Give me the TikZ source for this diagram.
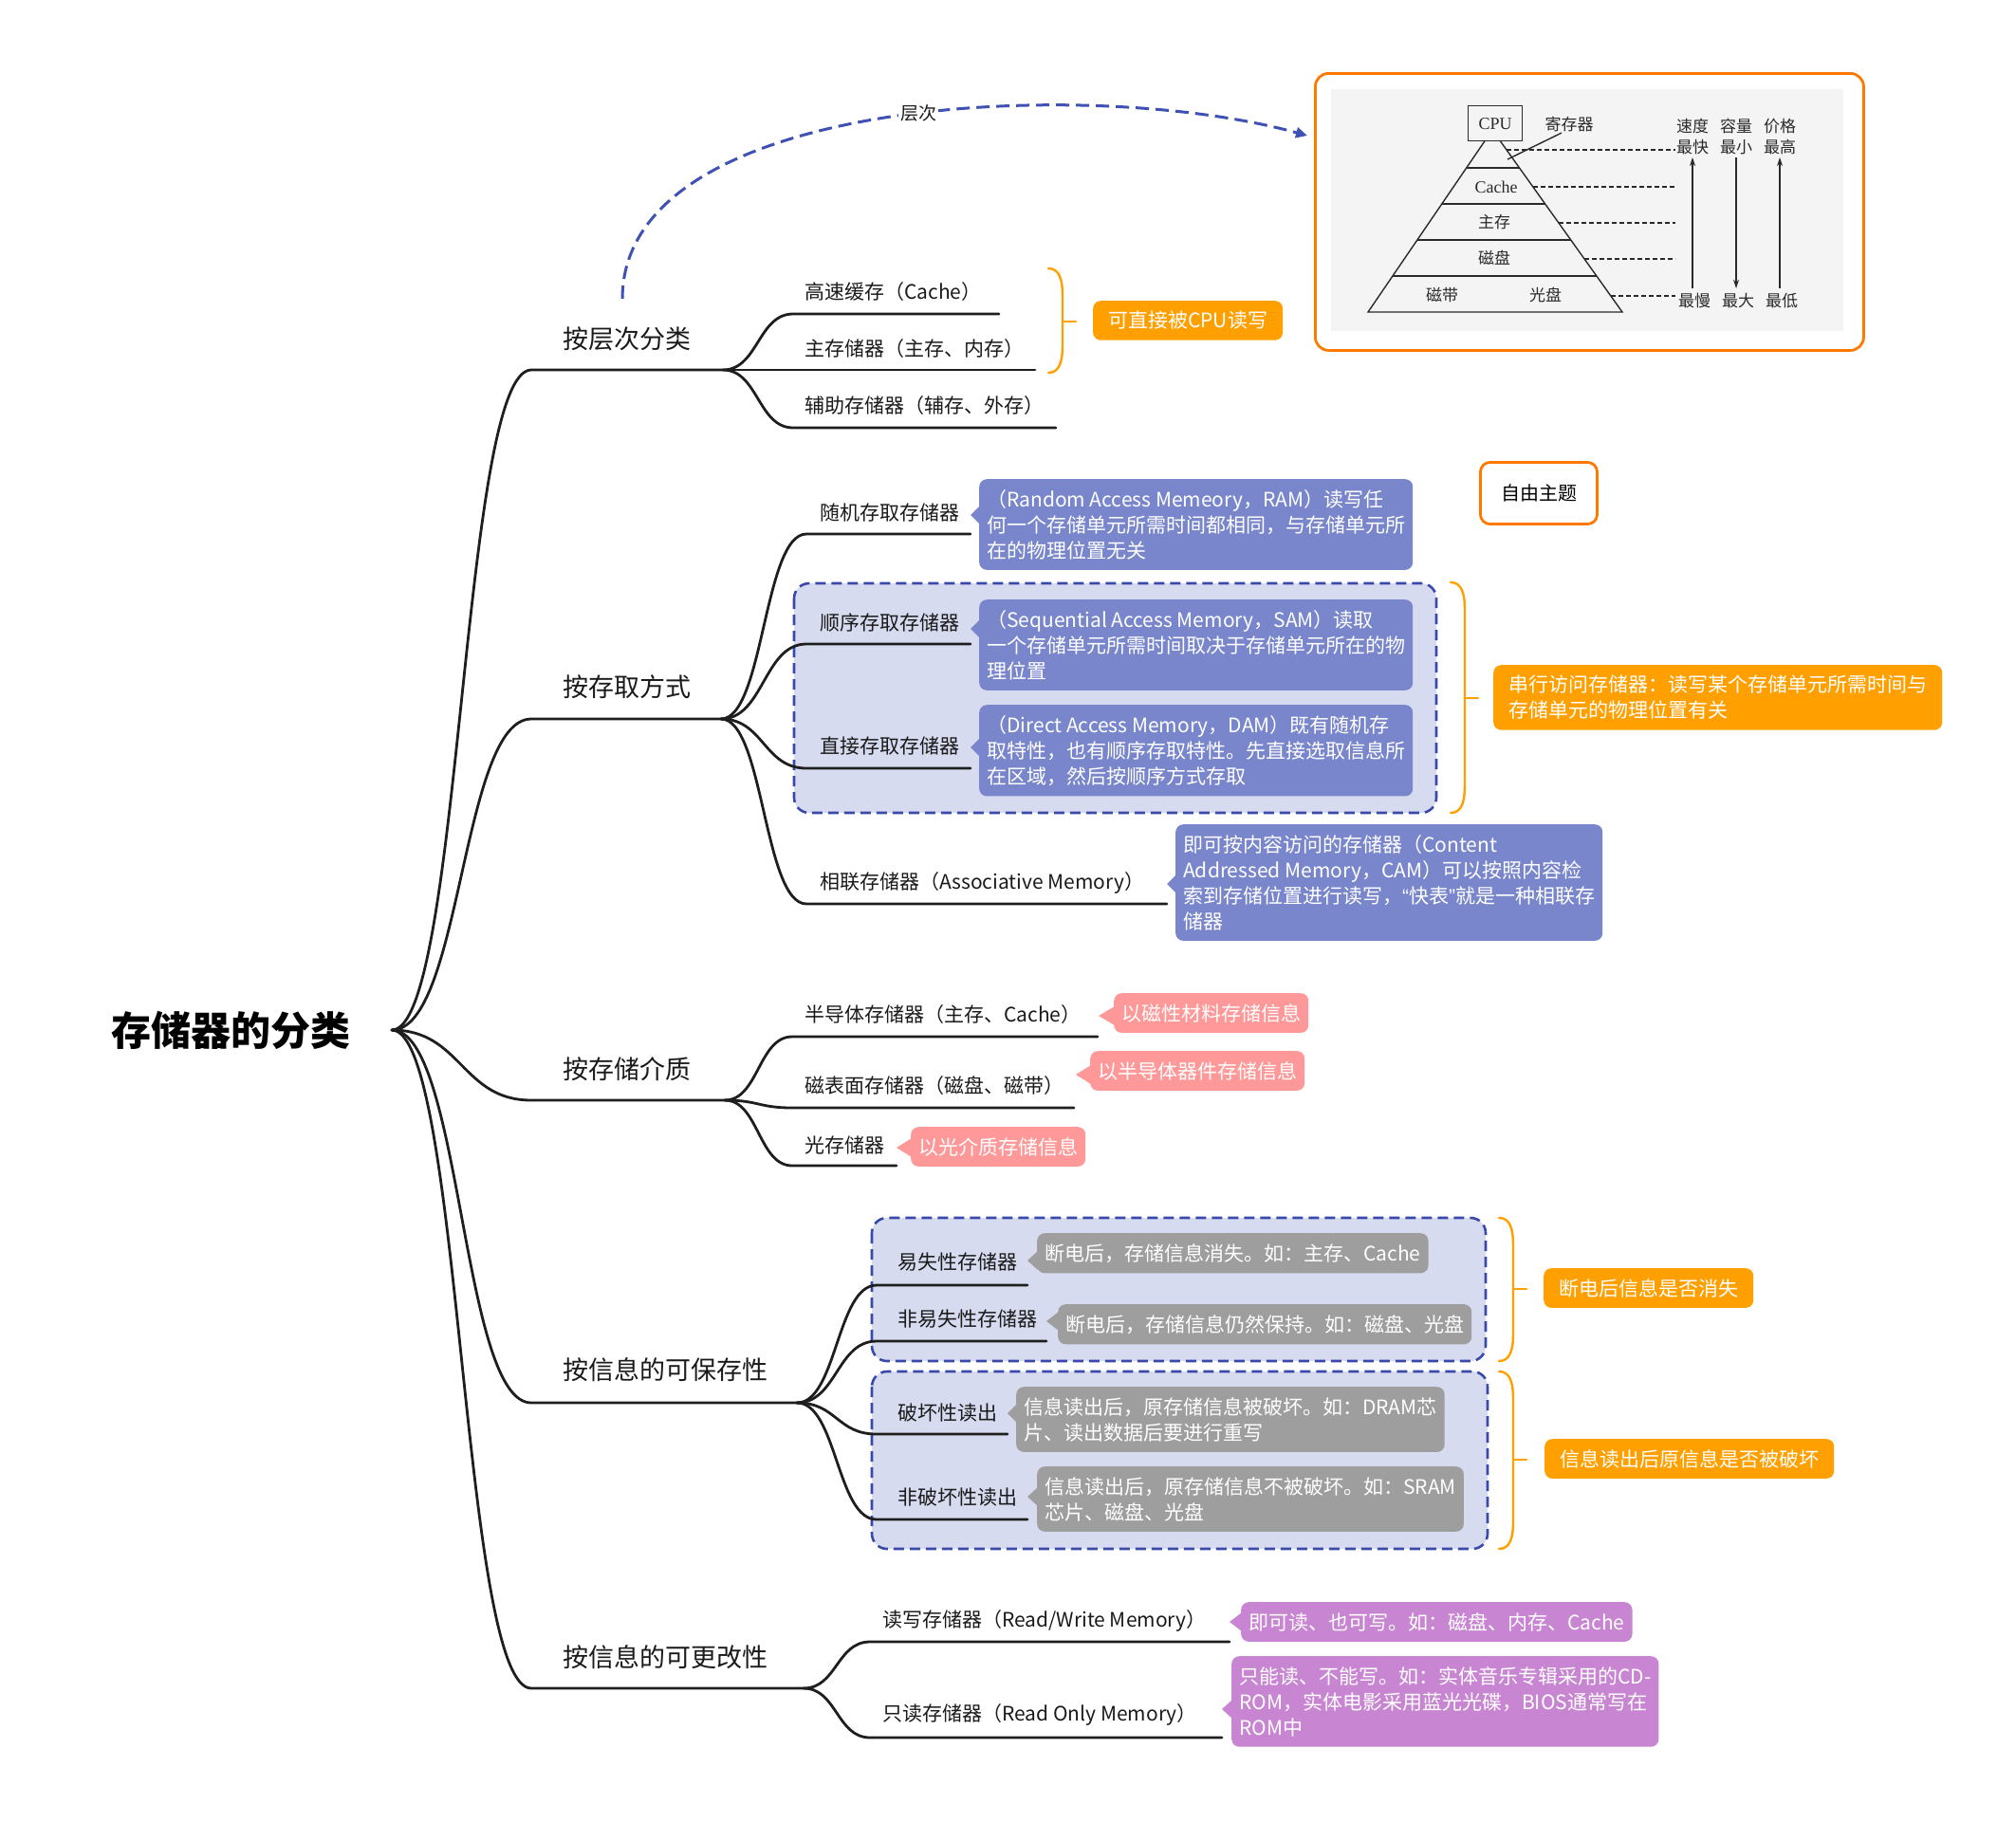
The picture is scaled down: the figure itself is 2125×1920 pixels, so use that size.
\documentclass[tikz,border=0pt]{standalone}
\usepackage{fontspec}
\setmainfont{Noto Sans CJK SC}
\newfontfamily\figserif{Liberation Serif}
\newfontfamily\quotefont{Liberation Sans}
\usetikzlibrary{calc,arrows.meta}

\definecolor{wireInk}{HTML}{1E1E1E}
\definecolor{labelInk}{HTML}{1A1A1A}
\definecolor{blueBox}{HTML}{7986CB}
\definecolor{groupFill}{HTML}{D7DBEF}
\definecolor{groupLine}{HTML}{3949AB}
\definecolor{pinkBox}{HTML}{FF9999}
\definecolor{grayBox}{HTML}{9E9E9E}
\definecolor{purpleBox}{HTML}{C886D2}
\definecolor{calloutOrange}{HTML}{FFA000}
\definecolor{frameOrange}{HTML}{FF7800}
\definecolor{arcBlue}{HTML}{3F51B5}
\definecolor{panelGray}{HTML}{F4F4F4}
\definecolor{pyrInk}{HTML}{2A2A2A}

% curved branch from a parent end to a child underline, then the underline itself
\newcommand\branch[3]{%
  \draw[wirepen] let \p1=(#1), \p2=(#2), \n1={0.5*(\x2-\x1)} in
    (\p1) .. controls ({\x1+\n1},\y1) and ({\x2-\n1},\y2) .. (\p2) -- (#3);}
% small pointer on the left side of a note box
\newcommand\notetip[3]{%
  \fill[#1] (#2) -- ($(#2 -| #3.west)+(1,-10)$) -- ($(#2 -| #3.west)+(1,10)$) -- cycle;}
% orange curly bracket with a tick in the middle
\newcommand\obrace[4]{%
  \draw[bracepen] (#1,#2) .. controls (#1+12,#2) and (#1+15,#2+12) .. (#1+15,#2+30)
    -- (#1+15,#3-30) .. controls (#1+15,#3-12) and (#1+12,#3) .. (#1,#3);
  \draw[bracepen] (#1+15,#4) -- (#1+29,#4);}

\begin{document}
\begin{tikzpicture}[x=1pt,y=-1pt,
  wirepen/.style={draw=wireInk, line width=2.8pt, line cap=round},
  lvlone/.style={font=\fontsize{27}{30}\selectfont, text=labelInk, anchor=west, inner sep=0pt},
  lvltwo/.style={font=\fontsize{21}{24}\selectfont, text=labelInk, anchor=west, inner sep=0pt},
  notebox/.style={rounded corners=8pt, text=white, align=left, inner xsep=8pt, inner ysep=11pt,
    font=\fontsize{21}{27}\selectfont, anchor=north west},
  bluenote/.style={notebox, fill=blueBox},
  pinknote/.style={notebox, fill=pinkBox},
  graynote/.style={notebox, fill=grayBox},
  purplenote/.style={notebox, fill=purpleBox},
  orangenote/.style={notebox, fill=calloutOrange, inner xsep=16pt},
  groupframe/.style={draw=groupLine, fill=groupFill, line width=2.6pt, dash pattern=on 11pt off 6pt, rounded corners=16pt},
  bracepen/.style={draw=calloutOrange, line width=2.4pt, line cap=round},
  pyr/.style={draw=pyrInk, line width=1.4pt},
  guide/.style={draw=pyrInk, line width=1.3pt, dash pattern=on 5pt off 3pt},
  pyrtext/.style={font=\fontsize{17}{17}\selectfont, text=pyrInk, inner sep=1pt},
  colarrow/.style={draw=pyrInk, line width=1.4pt, -{Stealth[length=9pt,width=6pt]}}
]
\useasboundingbox (0,0) rectangle (2125,1920);
\fill[white] (0,0) rectangle (2125,1920);

% ---------- dashed group frames ----------
\draw[groupframe] (837,615) rectangle (1514,857);
\draw[groupframe] (919,1284) rectangle (1566,1435);
\draw[groupframe] (919,1446) rectangle (1568,1633);

% ---------- root ----------
\node[font=\fontsize{42}{44}\selectfont\bfseries, text=black, inner sep=0pt] (root) at (243,1086) {存储器的分类};
\coordinate (hub) at (413,1086);

% level-one underline ends
\coordinate (aS) at (560,390);  \coordinate (aE) at (762,390);
\coordinate (bS) at (560,758);  \coordinate (bE) at (760,758);
\coordinate (cS) at (560,1160); \coordinate (cE) at (764,1160);
\coordinate (dS) at (560,1479); \coordinate (dE) at (840,1479);
\coordinate (eS) at (560,1780); \coordinate (eE) at (847,1780);

\branch{hub}{aS}{aE}
\branch{hub}{bS}{bE}
\branch{hub}{cS}{cE}
\branch{hub}{dS}{dE}
\branch{hub}{eS}{eE}

\node[lvlone] (aL) at (593,357) {按层次分类};
\node[lvlone] (bL) at (593,724) {按存取方式};
\node[lvlone] (cL) at (593,1127) {按存储介质};
\node[lvlone] (dL) at (593,1444) {按信息的可保存性};
\node[lvlone] (eL) at (593,1747) {按信息的可更改性};

% ---------- by hierarchy ----------
\coordinate (a1S) at (836,331); \coordinate (a1E) at (1053,331);
\coordinate (a2S) at (836,390); \coordinate (a2E) at (1091,390);
\coordinate (a3S) at (836,451); \coordinate (a3E) at (1113,451);
\branch{aE}{a1S}{a1E}
\branch{aE}{a2S}{a2E}
\branch{aE}{a3S}{a3E}
\node[lvltwo] (a1L) at (848,308) {高速缓存（Cache）};
\node[lvltwo] (a2L) at (848,368) {主存储器（主存、内存）};
\node[lvltwo] (a3L) at (848,428) {辅助存储器（辅存、外存）};
\obrace{1105}{283}{393}{339}
\node[orangenote] (o1) at (1152,317) {可直接被CPU读写};

% ---------- by access method ----------
\coordinate (b1S) at (850,563); \coordinate (b1E) at (1023,563);
\coordinate (b2S) at (850,679); \coordinate (b2E) at (1023,679);
\coordinate (b3S) at (850,810); \coordinate (b3E) at (1023,810);
\coordinate (b4S) at (850,953); \coordinate (b4E) at (1230,953);
\branch{bE}{b1S}{b1E}
\branch{bE}{b2S}{b2E}
\branch{bE}{b3S}{b3E}
\branch{bE}{b4S}{b4E}
\node[lvltwo] (b1L) at (864,540) {随机存取存储器};
\node[lvltwo] (b2L) at (864,656) {顺序存取存储器};
\node[lvltwo] (b3L) at (864,787) {直接存取存储器};
\node[lvltwo] (b4L) at (864,931) {相联存储器（Associative Memory）};

\node[bluenote] (ram) at (1032,505) {（Random Access Memeory，RAM）读写任\\何一个存储单元所需时间都相同，与存储单元所\\在的物理位置无关};
\node[bluenote] (sam) at (1032,632) {（Sequential Access Memory，SAM）读取\\一个存储单元所需时间取决于存储单元所在的物\\理位置};
\node[bluenote] (dam) at (1032,743) {（Direct Access Memory，DAM）既有随机存\\取特性，也有顺序存取特性。先直接选取信息所\\在区域，然后按顺序方式存取};
\node[bluenote] (cam) at (1239,869) {即可按内容访问的存储器（Content\\Addressed Memory，CAM）可以按照内容检\\索到存储位置进行读写，{\quotefont “}快表{\quotefont ”}就是一种相联存\\储器};
\coordinate (ramT) at (1023,543); \notetip{blueBox}{ramT}{ram}
\coordinate (samT) at (1023,663); \notetip{blueBox}{samT}{sam}
\coordinate (damT) at (1023,788); \notetip{blueBox}{damT}{dam}
\coordinate (camT) at (1230,932); \notetip{blueBox}{camT}{cam}
\obrace{1529}{614}{857}{736}
\node[orangenote] (o2) at (1574,701) {串行访问存储器：读写某个存储单元所需时间与\\存储单元的物理位置有关};

% ---------- by medium ----------
\coordinate (c1S) at (835,1093); \coordinate (c1E) at (1157,1093);
\coordinate (c2S) at (835,1168); \coordinate (c2E) at (1132,1168);
\coordinate (c3S) at (835,1229); \coordinate (c3E) at (945,1229);
\branch{cE}{c1S}{c1E}
\branch{cE}{c2S}{c2E}
\branch{cE}{c3S}{c3E}
\node[lvltwo] (c1L) at (848,1070) {半导体存储器（主存、Cache）};
\node[lvltwo] (c2L) at (848,1145) {磁表面存储器（磁盘、磁带）};
\node[lvltwo] (c3L) at (848,1207) {光存储器};
\node[pinknote] (p1) at (1174,1047) {以磁性材料存储信息};
\node[pinknote] (p2) at (1149,1108) {以半导体器件存储信息};
\node[pinknote] (p3) at (960,1188) {以光介质存储信息};
\coordinate (p1T) at (1158,1071); \notetip{pinkBox}{p1T}{p1}
\coordinate (p2T) at (1134,1133); \notetip{pinkBox}{p2T}{p2}
\coordinate (p3T) at (945,1210);  \notetip{pinkBox}{p3T}{p3}

% ---------- by retention ----------
\coordinate (d1S) at (924,1355); \coordinate (d1E) at (1083,1355);
\coordinate (d2S) at (924,1414); \coordinate (d2E) at (1103,1414);
\coordinate (d3S) at (924,1512); \coordinate (d3E) at (1062,1512);
\coordinate (d4S) at (924,1602); \coordinate (d4E) at (1083,1602);
\branch{dE}{d1S}{d1E}
\branch{dE}{d2S}{d2E}
\branch{dE}{d3S}{d3E}
\branch{dE}{d4S}{d4E}
\node[lvltwo] (d1L) at (946,1331) {易失性存储器};
\node[lvltwo] (d2L) at (946,1391) {非易失性存储器};
\node[lvltwo] (d3L) at (946,1490) {破坏性读出};
\node[lvltwo] (d4L) at (946,1579) {非破坏性读出};
\node[graynote] (g1) at (1093,1300) {断电后，存储信息消失。如：主存、Cache};
\node[graynote] (g2) at (1115,1375) {断电后，存储信息仍然保持。如：磁盘、光盘};
\node[graynote] (g3) at (1071,1462) {信息读出后，原存储信息被破坏。如：DRAM芯\\片、读出数据后要进行重写};
\node[graynote] (g4) at (1093,1546) {信息读出后，原存储信息不被破坏。如：SRAM\\芯片、磁盘、光盘};
\coordinate (g1T) at (1083,1329); \notetip{grayBox}{g1T}{g1}
\coordinate (g2T) at (1103,1393); \notetip{grayBox}{g2T}{g2}
\coordinate (g3T) at (1062,1490); \notetip{grayBox}{g3T}{g3}
\coordinate (g4T) at (1083,1578); \notetip{grayBox}{g4T}{g4}
\obrace{1580}{1284}{1435}{1359}
\obrace{1580}{1446}{1633}{1539}
\node[orangenote] (o3) at (1627,1337) {断电后信息是否消失};
\node[orangenote] (o4) at (1628,1517) {信息读出后原信息是否被破坏};

% ---------- by mutability ----------
\coordinate (e1S) at (917,1731); \coordinate (e1E) at (1296,1731);
\coordinate (e2S) at (917,1832); \coordinate (e2E) at (1288,1832);
\branch{eE}{e1S}{e1E}
\branch{eE}{e2S}{e2E}
\node[lvltwo] (e1L) at (930,1709) {读写存储器（Read/Write Memory）};
\node[lvltwo] (e2L) at (930,1808) {只读存储器（Read Only Memory）};
\node[purplenote] (u1) at (1308,1689) {即可读、也可写。如：磁盘、内存、Cache};
\node[purplenote] (u2) at (1298,1746) {只能读、不能写。如：实体音乐专辑采用的CD-\\ROM，实体电影采用蓝光光碟，BIOS通常写在\\ROM中};
\coordinate (u1T) at (1296,1710); \notetip{purpleBox}{u1T}{u1}
\coordinate (u2T) at (1288,1802); \notetip{purpleBox}{u2T}{u2}

% ---------- floating topic ----------
\node[draw=frameOrange, line width=2.8pt, rounded corners=10pt, fill=white,
      minimum width=123pt, minimum height=65pt, font=\fontsize{20}{20}\selectfont] (free) at (1622,520) {自由主题};

% ---------- memory hierarchy figure ----------
\node[draw=frameOrange, line width=2.8pt, rounded corners=14pt, fill=white,
      minimum width=578pt, minimum height=292pt, anchor=north west, inner sep=0pt] (hier) at (1385,76) {};
\fill[panelGray] (1403,94) rectangle (1943,349);

\coordinate (apex) at (1573,137);
\coordinate (pbl) at (1442,329);
\coordinate (pbr) at (1710,329);
\draw[pyr, line join=miter] ($(apex)!0.0573!(pbl)$) -- (pbl) -- (pbr) -- ($(apex)!0.0573!(pbr)$);
\foreach \f in {0.2083,0.40625,0.6042,0.8021}
  \draw[pyr] ($(apex)!\f!(pbl)$) -- ($(apex)!\f!(pbr)$);
\node[pyr, fill=panelGray, minimum width=57pt, minimum height=37pt, anchor=north west,
      font=\figserif\fontsize{18}{18}\selectfont, text=pyrInk] (cpu) at (1547,111) {CPU};

\node[pyrtext] (reg) at (1654,131) {寄存器};
\coordinate (regTip) at (1589,168);
\draw[pyr] ([xshift=-8pt]reg.south) -- (regTip);

\node[pyrtext, font=\figserif\fontsize{18}{18}\selectfont] (lvCache) at (1577,197) {Cache};
\node[pyrtext] (lvMain) at (1575,234) {主存};
\node[pyrtext] (lvDisk) at (1575,272) {磁盘};
\node[pyrtext] (lvTape) at (1520,311) {磁带};
\node[pyrtext] (lvOpt) at (1629,311) {光盘};

\coordinate (guideEnd) at (1766,0);
\foreach \f in {0.109,0.3125,0.51,0.708,0.911} {
  \path ($(apex)!\f!(pbr)$) coordinate (g);
  \draw[guide] (g) -- (g -| guideEnd);
}

\node[pyrtext] (hSpeed) at (1784,133) {速度};
\node[pyrtext] (hFast)  at (1784,155) {最快};
\node[pyrtext] (hCap)   at (1830,133) {容量};
\node[pyrtext] (hSmall) at (1830,155) {最小};
\node[pyrtext] (hPrice) at (1876,133) {价格};
\node[pyrtext] (hHigh)  at (1876,155) {最高};
\node[pyrtext] (hSlow)  at (1786,317) {最慢};
\node[pyrtext] (hLarge) at (1832,317) {最大};
\node[pyrtext] (hLow)   at (1878,317) {最低};
\draw[colarrow, shorten <=4pt, shorten >=2pt] (hSlow.north -| hFast) -- (hFast.south);
\draw[colarrow, shorten <=2pt, shorten >=4pt] (hSmall.south) -- (hLarge.north -| hSmall);
\draw[colarrow, shorten <=4pt, shorten >=2pt] (hLow.north -| hHigh) -- (hHigh.south);

% ---------- dashed link from the hierarchy topic to the figure ----------
\coordinate (arcS) at (656,315);
\coordinate (arcE) at (1378,143);
\draw[draw=arcBlue, line width=3pt, dash pattern=on 14pt off 7pt, -{Triangle[length=12pt,width=11pt]}]
  (arcS) .. controls (656,100) and (1150,80) .. (arcE)
  node[pos=0.54, fill=white, inner sep=2pt, text=labelInk, font=\fontsize{19}{19}\selectfont] (arcL) {层次};

\end{tikzpicture}
\end{document}
